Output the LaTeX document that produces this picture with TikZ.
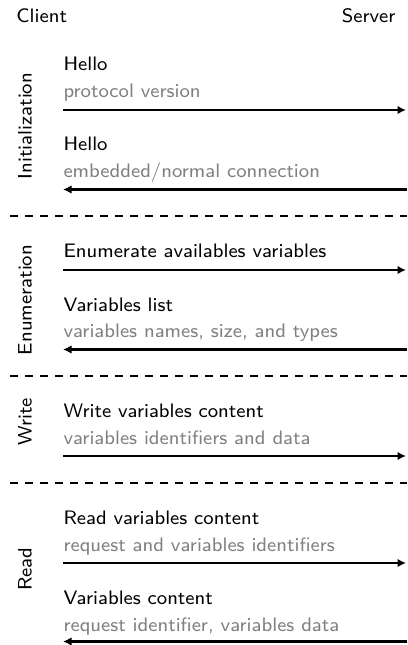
\documentclass[tikz,border=0pt]{standalone}
\usetikzlibrary{arrows.meta}
\begin{document}
\begin{tikzpicture}[x=0.4pt,y=-0.4pt,font=\sffamily\fontsize{7.8}{9}\selectfont,
    msg/.style={anchor=mid west,inner sep=0pt},
    note/.style={msg,text=gray},
    phase/.style={rotate=90,inner sep=0pt},
    call/.style={line width=0.9pt,-{Latex[length=3.4pt,width=3.4pt]}},
    sep/.style={line width=0.9pt,dashed}]
\useasboundingbox (0,0) rectangle (407,645);

\node[msg] (client) at (16,17) {Client};
\node[anchor=mid east,inner sep=0pt] (server) at (396,17) {Server};

% initialization
\node[phase] (init) at (25,126) {Initialization};
\node[msg] (hello1) at (63,65) {Hello};
\node[note] (hello1n) at (63,92) {protocol version};
\coordinate (c1) at (63,110);
\coordinate (s1) at (406,110);
\draw[call] (c1) -- (s1);
\node[msg] (hello2) at (63,145) {Hello};
\node[note] (hello2n) at (63,172) {embedded/normal connection};
\coordinate (c2) at (63,189.5);
\coordinate (s2) at (407,189.5);
\draw[call] (s2) -- (c2);

\coordinate (l1) at (10,216);
\coordinate (r1) at (407,216);
\draw[sep] (l1) -- (r1);

% enumeration
\node[phase] (enum) at (25,300) {Enumeration};
\node[msg] (enumq) at (63,252) {Enumerate availables variables};
\coordinate (c3) at (63,270);
\coordinate (s3) at (406,270);
\draw[call] (c3) -- (s3);
\node[msg] (enumr) at (63,306) {Variables list};
\node[note] (enumrn) at (63,332) {variables names, size, and types};
\coordinate (c4) at (63,349.5);
\coordinate (s4) at (407,349.5);
\draw[call] (s4) -- (c4);

\coordinate (l2) at (10,376);
\coordinate (r2) at (407,376);
\draw[sep] (l2) -- (r2);

% write
\node[phase] (write) at (25,422) {Write};
\node[msg] (writeq) at (63,412) {Write variables content};
\node[note] (writeqn) at (63,439) {variables identifiers and data};
\coordinate (c5) at (63,456);
\coordinate (s5) at (406,456);
\draw[call] (c5) -- (s5);

\coordinate (l3) at (10,483);
\coordinate (r3) at (407,483);
\draw[sep] (l3) -- (r3);

% read
\node[phase] (read) at (25,569) {Read};
\node[msg] (readq) at (63,519) {Read variables content};
\node[note] (readqn) at (63,546) {request and variables identifiers};
\coordinate (c6) at (63,563);
\coordinate (s6) at (406,563);
\draw[call] (c6) -- (s6);
\node[msg] (readr) at (63,599) {Variables content};
\node[note] (readrn) at (63,626) {request identifier, variables data};
\coordinate (c7) at (63,641.5);
\coordinate (s7) at (407,641.5);
\draw[call] (s7) -- (c7);
\end{tikzpicture}
\end{document}
